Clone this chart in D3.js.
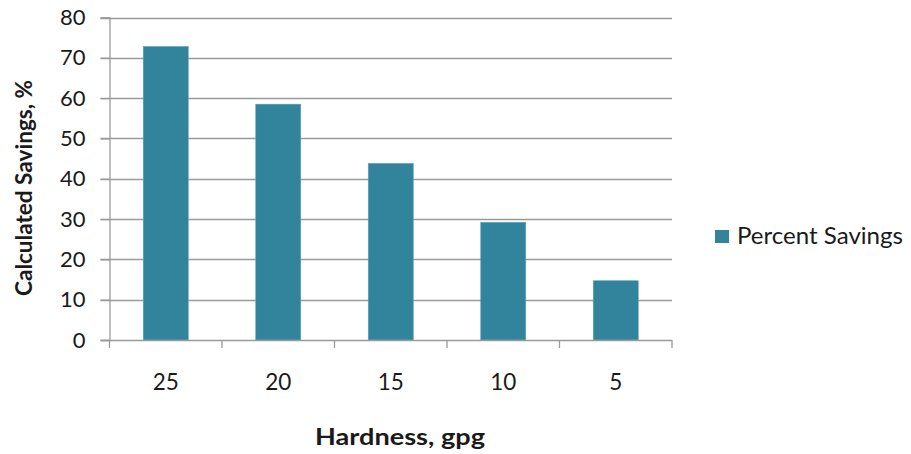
<!DOCTYPE html>
<html>
<head>
<meta charset="utf-8">
<script src="https://cdn.jsdelivr.net/npm/d3@7"></script>
<style>
  html, body { margin: 0; padding: 0; background: #fff; }
  svg { display: block; }
  text { font-family: Lato, "Open Sans", sans-serif; fill: #1a1a1a; }
</style>
</head>
<body>
<svg id="chart" width="911" height="454"></svg>
<script>
// Hardness categories and the savings for each
const hardness = ["25", "20", "15", "10", "5"];
const savings = [72.8, 58.5, 43.8, 29.2, 14.7];
const yTicks = [0, 10, 20, 30, 40, 50, 60, 70, 80];
const seriesName = "Percent Savings";

const svg = d3.select("#chart");
const plotLeft = 109.5, plotRight = 672, plotTop = 17.5, plotBottom = 340;
const barColor = "#31849b";
const gridColor = "#9a9a9a";

const x = d3.scaleBand().domain(hardness).range([plotLeft, plotRight]).paddingInner(0.6).paddingOuter(0.3);
const xEdge = d3.scaleLinear().domain([0, hardness.length]).range([plotLeft, plotRight]);
const y = d3.scaleLinear().domain([0, 80]).range([plotBottom, plotTop]);

// horizontal gridlines
svg.append("g").selectAll("line").data(yTicks.filter(d => d > 0)).join("line")
  .attr("x1", plotLeft - 9).attr("x2", plotRight)
  .attr("y1", d => Math.round(y(d)) + 0.5).attr("y2", d => Math.round(y(d)) + 0.5)
  .attr("stroke", gridColor).attr("stroke-width", 1.3);

// bars
svg.append("g").selectAll("rect").data(savings).join("rect")
  .attr("x", (d, i) => x(hardness[i]))
  .attr("width", x.bandwidth())
  .attr("y", d => y(d))
  .attr("height", d => y(0) - y(d))
  .attr("fill", barColor)
  .attr("stroke", "#5aa3b8").attr("stroke-width", 0.6);

// y axis
const yAxis = svg.append("g").attr("transform", `translate(${plotLeft},0)`)
  .call(d3.axisLeft(y).tickValues(yTicks).tickSize(9).tickPadding(15));
yAxis.select(".domain").attr("stroke", gridColor).attr("stroke-width", 1.3);
yAxis.selectAll(".tick line").attr("stroke", gridColor).attr("stroke-width", 1.3);
yAxis.selectAll(".tick text").attr("font-size", 22).attr("font-family", "Lato, sans-serif").attr("fill", "#1a1a1a");

// x axis baseline and category separators
const xg = svg.append("g");
xg.append("line").attr("x1", plotLeft - 9).attr("x2", plotRight)
  .attr("y1", plotBottom + 0.5).attr("y2", plotBottom + 0.5)
  .attr("stroke", gridColor).attr("stroke-width", 1.3);
xg.selectAll("line.sep").data(d3.range(hardness.length + 1)).join("line")
  .attr("class", "sep")
  .attr("x1", d => xEdge(d)).attr("x2", d => xEdge(d))
  .attr("y1", plotBottom).attr("y2", plotBottom + 8)
  .attr("stroke", gridColor).attr("stroke-width", 1.3);
xg.selectAll("text").data(hardness).join("text")
  .attr("x", d => x(d) + x.bandwidth() / 2)
  .attr("y", 390)
  .attr("text-anchor", "middle")
  .attr("font-size", 22.5)
  .text(d => d);

// axis titles
svg.append("text")
  .attr("x", 400).attr("y", 445)
  .attr("text-anchor", "middle")
  .attr("font-size", 23.5).attr("font-weight", "bold")
  .attr("textLength", 170).attr("lengthAdjust", "spacingAndGlyphs")
  .text("Hardness, gpg");
svg.append("text")
  .attr("transform", "translate(32,188) rotate(-90)")
  .attr("text-anchor", "middle")
  .attr("font-size", 23.5).attr("font-weight", "bold")
  .attr("textLength", 216).attr("lengthAdjust", "spacingAndGlyphs")
  .text("Calculated Savings, %");

// legend
const lg = svg.append("g").attr("transform", "translate(715,230)");
lg.append("rect").attr("width", 14).attr("height", 13).attr("fill", barColor);
lg.append("text").attr("x", 22).attr("y", 13.5).attr("font-size", 23.5)
  .attr("textLength", 166).attr("lengthAdjust", "spacingAndGlyphs")
  .text(seriesName);
</script>
</body>
</html>
